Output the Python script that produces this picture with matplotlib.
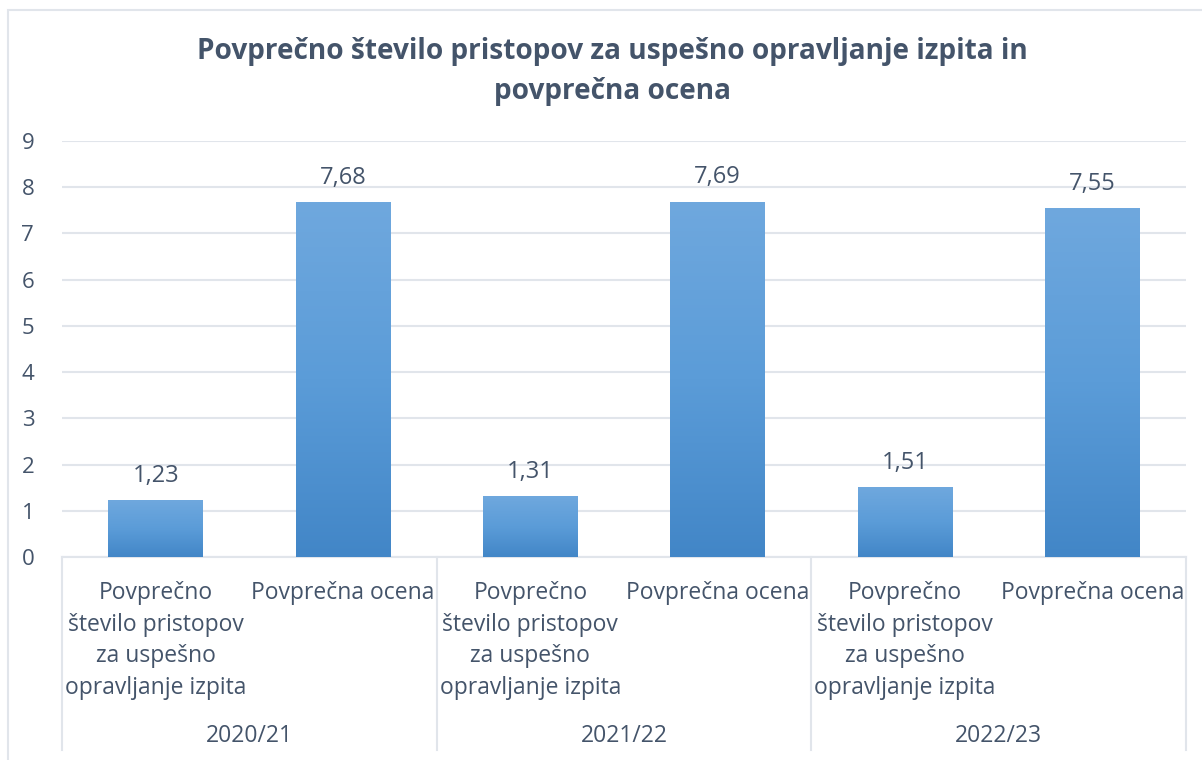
import matplotlib.pyplot as plt
import numpy as np
from matplotlib.colors import LinearSegmentedColormap
from matplotlib.patches import Rectangle
from matplotlib.transforms import blended_transform_factory

years = ["2020/21", "2021/22", "2022/23"]
measures = ["Povprečno\nštevilo pristopov\nza uspešno\nopravljanje izpita", "Povprečna ocena"]
values = [1.23, 7.68, 1.31, 7.69, 1.51, 7.55]
value_labels = ["1,23", "7,68", "1,31", "7,69", "1,51", "7,55"]
yticks = list(range(0, 10))

TEXT = "#44546a"
GRID = "#e1e5eb"
plt.rcParams["font.family"] = ["Open Sans", "DejaVu Sans"]

fig = plt.figure(figsize=(12.02, 7.6), dpi=100)
W, H = 1202, 760
ax = fig.add_axes([62 / W, 1 - 557 / H, (1186 - 62) / W, (557 - 141) / H])

# outer chart border (cropped at right and bottom)
fig.patches.append(Rectangle((8 / W, -0.1), 1.2, 1 - 10 / H + 0.1, transform=fig.transFigure,
                             fill=False, edgecolor=GRID, lw=1.5))

x = np.arange(len(values))
bars = ax.bar(x, values, width=0.507, color="#5a9bd5", zorder=2)
cmap = LinearSegmentedColormap.from_list("g", ["#4286c7", "#5b9cd8", "#6fa8de"])
grad = np.linspace(0, 1, 256).reshape(-1, 1)
for b in bars:
    b.set_alpha(0)
    x0, w, h = b.get_x(), b.get_width(), b.get_height()
    im = ax.imshow(grad, cmap=cmap, origin="lower", aspect="auto",
                   extent=[x0, x0 + w, 0, h], zorder=3)
    im.set_clip_path(b)

for xi, v, lab in zip(x, values, value_labels):
    ax.annotate(lab, (xi, v), xytext=(0, 9), textcoords="offset points",
                ha="center", va="bottom", fontsize=17, color=TEXT)

ax.set_xlim(-0.5, len(values) - 0.5)
ax.set_ylim(0, 9)
ax.set_yticks(yticks)
ax.tick_params(axis="y", length=0, pad=20, labelsize=16, labelcolor=TEXT)
ax.set_xticks([])
ax.grid(axis="y", color=GRID, lw=1.5, zorder=0)
for s in ["top", "right", "left"]:
    ax.spines[s].set_visible(False)
ax.spines["bottom"].set_color(GRID)
ax.spines["bottom"].set_linewidth(1.5)

tr = blended_transform_factory(ax.transData, ax.transAxes)
axh = (557 - 141)
for i in range(len(years) + 1):
    xs = i * 2 - 0.5
    ax.plot([xs, xs], [0, -(750 - 557) / axh], transform=tr, color=GRID, lw=1.5, clip_on=False)
for i, xi in enumerate(x):
    ax.text(xi, -(581 - 557) / axh, measures[i % 2], transform=tr, ha="center", va="top",
            fontsize=16.5, color=TEXT, linespacing=1.42)
for j, yr in enumerate(years):
    ax.text(j * 2 + 0.5, -(736 - 557) / axh, yr, transform=tr, ha="center", va="center",
            fontsize=16.5, color=TEXT)

fig.text(612 / W, 1 - 71 / H, "Povprečno število pristopov za uspešno opravljanje izpita in\npovprečna ocena",
         ha="center", va="center", fontsize=20.2, fontweight="bold", color=TEXT, linespacing=1.5)

fig.savefig("out.png", dpi=100, facecolor="white")
